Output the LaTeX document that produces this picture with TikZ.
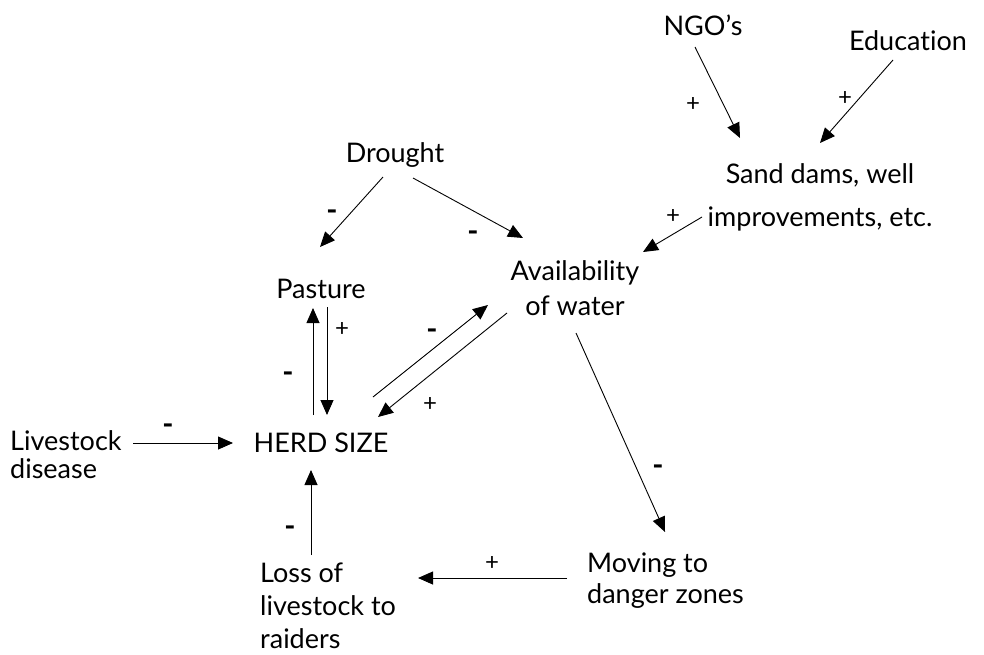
\documentclass[tikz,border=0pt]{standalone}
\usepackage{fontspec}
\setmainfont{Lato}[Ligatures={TeX,NoCommon}]
\usepackage{tikz}
\usetikzlibrary{arrows.meta, calc}
\tikzstyle{factor} = [inner sep=0, font=\fontsize{27}{35}\selectfont]
\tikzstyle{link} = [-{Triangle[length=15pt,width=13pt]}, line width=0.9pt]
\tikzstyle{possign} = [inner sep=0, yshift=-1pt, font=\fontsize{24}{24}\selectfont]
\tikzstyle{negsign} = [inner sep=0, yshift=-7pt, font=\fontsize{30}{30}\selectfont\bfseries]

\begin{document}
\begin{tikzpicture}[x=1pt, y=-1pt]
	\useasboundingbox (0,0) rectangle (984,654);

	% outside inputs
	\node (NGO) [factor, anchor=base] at (703,35) {NGO's};
	\node (Edu) [factor, anchor=base] at (908,50) {Education};
	\node (Dams) [factor, anchor=base, align=center, font=\fontsize{27}{43}\selectfont] at (820,226) {Sand dams, well\\improvements, etc.};
	\draw[link] ($(NGO.base)+(-8,12)$) -- ($(Dams.base)+(-80,-88)$);
	\draw[link] ($(Edu.base)+(-15,10)$) -- ($(Dams.base)+(0,-83)$);

	% water and pasture
	\node (Drought) [factor, anchor=base] at (395,162) {Drought};
	\node (Pasture) [factor, anchor=base] at (321,298) {Pasture};
	\node (Water) [factor, anchor=base, align=center] at (575,315) {Availability\\of water};
	\draw[link] ($(Dams.base)+(-118,-9)$) -- ($(Water.base)+(68,-63)$);
	\draw[link] ($(Drought.base)+(-12,15)$) -- ($(Pasture.base)+(-1,-51)$);
	\draw[link] ($(Drought.base)+(18,16)$) -- ($(Water.base)+(-52,-77)$);

	% herd
	\node (Herd) [factor, anchor=base] at (321,452) {HERD SIZE};
	\draw[link] ($(Herd.base)+(-8,-37)$) -- ($(Pasture.base)+(-8,10)$);
	\draw[link] ($(Pasture.base)+(6,9)$) -- ($(Herd.base)+(6,-37)$);
	\draw[link] ($(Herd.base)+(52,-55)$) -- ($(Water.base)+(-87,-10)$);
	\draw[link] ($(Water.base)+(-68,-2)$) -- ($(Herd.base)+(57,-35)$);

	% losses
	\node (Disease) [factor, anchor=base west, align=left, font=\fontsize{27}{28}\selectfont] at (10,478) {Livestock\\disease};
	\node (Moving) [factor, anchor=base west, align=left, font=\fontsize{27}{31}\selectfont] at (587,603) {Moving to\\danger zones};
	\node (Raiders) [factor, anchor=base west, align=left, font=\fontsize{27}{33}\selectfont] at (260,648) {Loss of\\livestock to\\raiders};
	\draw[link] ($(Water.base)+(1,18)$) -- ($(Moving.base west)+(78,-71)$);
	\draw[link] ($(Moving.base west)+(-20,-25)$) -- ($(Raiders.base west)+(158,-70)$);
	\draw[link] ($(Disease.base west)+(123,-35)$) -- ($(Herd.base)+(-88,-9)$);
	\draw[link] ($(Raiders.base west)+(51,-93)$) -- ($(Herd.base)+(-10,18)$);

	% signs
	\foreach \x/\y [count=\i] in {693/103, 845/97, 673/215, 342/328, 430/403, 492/562}
		\node (Plus\i) [possign] at (\x,\y) {+};
	\foreach \x/\y [count=\i] in {332/208, 473/229, 288/370, 432/327, 658/463, 168/422, 290/524}
		\node (Minus\i) [negsign] at (\x,\y) {-};
\end{tikzpicture}
\end{document}
